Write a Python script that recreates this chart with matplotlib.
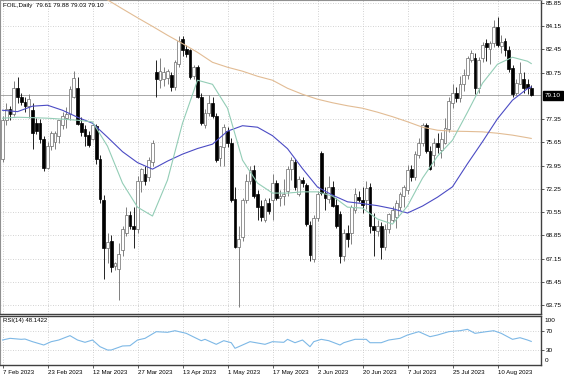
import numpy as np
import matplotlib
matplotlib.use("Agg")
import matplotlib.pyplot as plt

plt.rcParams['font.family'] = ['Liberation Sans', 'DejaVu Sans']

# daily bars, 7 Feb 2023 .. 23 Aug 2023 (bar index = position)
opens = [
    74.40, 77.30, 78.10, 77.70, 79.65, 78.95, 78.60, 78.30, 78.05, 77.10,
    77.10, 75.90, 73.75, 75.35, 75.70, 76.10, 76.90, 77.40, 77.70, 79.00,
    79.60, 77.10, 76.60, 76.20, 75.90, 76.85, 74.40, 71.45, 67.90, 68.40,
    66.60, 66.40, 67.80, 69.00, 70.30, 69.50, 69.30, 72.80, 73.30, 73.10,
    74.20, 80.80, 80.20, 80.30, 80.35, 80.60, 79.70, 81.40, 83.25, 82.50,
    82.40, 80.50, 81.15, 78.95, 76.90, 77.80, 78.50, 77.55, 74.50, 75.30,
    76.50, 75.60, 71.50, 68.00, 68.75, 71.40, 72.80, 73.60, 71.90, 71.00,
    70.00, 71.20, 71.40, 72.65, 71.55, 71.70, 72.10, 73.70, 74.20, 71.90,
    72.90, 72.50, 69.60, 67.10, 70.10, 74.90, 71.95, 71.50, 72.40, 71.10,
    70.40, 67.30, 69.00, 69.00, 70.70, 71.65, 71.45, 71.40, 72.40, 69.50,
    69.20, 69.50, 68.00, 69.30, 70.00, 70.20, 70.90, 71.70, 72.20, 73.70,
    73.10, 74.70, 75.60, 76.90, 75.00, 74.70, 75.60, 75.10, 75.60, 76.60,
    78.50, 79.30, 78.90, 79.90, 80.60, 81.70, 81.80, 79.60, 81.80, 82.90,
    82.50, 82.90, 84.10, 82.70, 83.10, 82.40, 81.10, 79.30, 79.90, 80.30,
    79.90, 79.61]
highs = [
    77.60, 78.50, 78.30, 80.15, 80.40, 79.30, 79.00, 79.20, 78.55, 77.40,
    77.35, 76.10, 75.70, 76.50, 76.50, 77.30, 77.90, 78.25, 79.80, 80.90,
    80.45, 77.50, 76.90, 76.50, 77.00, 77.00, 74.70, 71.80, 69.00, 68.90,
    66.90, 68.30, 69.50, 70.90, 70.60, 70.90, 73.20, 73.80, 73.90, 74.60,
    75.80, 81.70, 81.80, 81.20, 81.00, 80.80, 81.70, 83.40, 83.40, 82.80,
    82.50, 81.30, 81.30, 79.30, 78.10, 79.15, 79.00, 77.80, 75.40, 77.00,
    76.80, 76.00, 72.40, 69.50, 71.60, 73.30, 73.90, 74.00, 72.20, 71.40,
    71.60, 71.60, 73.30, 72.90, 72.20, 73.00, 73.90, 74.60, 74.40, 73.20,
    73.10, 72.70, 69.90, 70.30, 72.10, 75.00, 72.40, 73.20, 72.80, 71.60,
    70.60, 69.30, 69.60, 71.10, 72.30, 72.10, 72.40, 72.80, 72.70, 70.50,
    70.00, 69.80, 69.70, 70.50, 71.00, 71.40, 72.00, 72.50, 74.00, 74.00,
    75.00, 76.00, 77.10, 77.10, 75.40, 76.00, 76.30, 76.40, 77.40, 79.00,
    79.90, 79.70, 80.50, 81.00, 82.00, 82.40, 82.20, 81.90, 83.00, 83.20,
    83.10, 84.60, 84.85, 83.50, 83.30, 82.70, 81.30, 80.30, 81.50, 80.80,
    80.30, 79.88]
lows = [
    74.20, 76.90, 77.30, 77.60, 78.55, 78.40, 77.90, 77.40, 75.15, 76.25,
    75.60, 73.55, 73.70, 75.10, 75.20, 75.60, 76.60, 76.70, 77.30, 78.90,
    76.90, 76.10, 75.40, 75.30, 75.80, 74.10, 71.20, 65.65, 66.80, 66.20,
    66.30, 64.15, 67.30, 68.80, 69.30, 67.90, 69.00, 72.00, 72.50, 72.80,
    73.90, 79.00, 79.60, 79.80, 79.90, 79.40, 79.50, 81.20, 82.00, 81.90,
    80.30, 80.30, 78.90, 76.90, 76.70, 77.60, 77.40, 74.20, 73.90, 73.90,
    75.30, 71.30, 67.90, 63.60, 68.40, 71.20, 72.60, 71.60, 70.00, 69.90,
    69.80, 70.40, 70.00, 71.40, 71.00, 71.10, 71.70, 72.90, 72.20, 71.70,
    72.40, 69.50, 67.00, 66.90, 69.90, 71.80, 70.70, 71.20, 70.90, 69.40,
    66.80, 67.00, 68.00, 68.20, 70.50, 71.30, 70.50, 70.80, 69.00, 67.30,
    68.80, 67.10, 67.80, 69.00, 69.80, 69.40, 70.70, 70.90, 71.90, 72.80,
    72.90, 74.50, 75.40, 74.90, 73.60, 73.90, 74.90, 74.50, 75.50, 76.40,
    78.20, 78.60, 78.60, 79.40, 80.30, 81.50, 79.20, 79.30, 81.50, 81.60,
    81.40, 82.60, 82.60, 82.20, 82.00, 80.80, 79.00, 79.10, 79.90, 79.30,
    79.20, 79.03]
closes = [
    77.30, 78.10, 77.70, 79.65, 78.95, 78.60, 78.30, 78.85, 76.35, 76.45,
    75.90, 73.75, 75.35, 76.30, 76.35, 77.30, 77.60, 77.75, 79.55, 80.35,
    77.00, 76.40, 76.10, 75.45, 76.90, 74.40, 71.50, 67.90, 68.35, 66.50,
    66.80, 67.50, 69.30, 70.30, 69.50, 69.30, 72.85, 73.70, 72.80, 74.35,
    75.60, 80.30, 80.90, 80.80, 80.85, 79.70, 81.50, 83.10, 82.40, 82.15,
    80.45, 81.15, 79.00, 77.05, 77.80, 78.50, 77.60, 74.35, 75.35, 76.80,
    75.60, 71.45, 68.00, 68.60, 71.40, 72.80, 73.60, 71.70, 70.90, 70.20,
    71.40, 70.60, 72.65, 71.55, 71.70, 71.90, 73.70, 74.35, 72.40, 73.00,
    72.70, 69.70, 67.40, 70.10, 71.90, 71.95, 71.55, 72.40, 71.00, 69.50,
    67.30, 69.00, 68.60, 70.90, 71.90, 71.45, 71.05, 72.30, 69.50, 69.25,
    69.55, 68.00, 69.30, 70.40, 70.70, 71.20, 71.90, 72.40, 73.60, 73.10,
    74.80, 75.60, 76.90, 75.00, 73.70, 75.60, 75.30, 75.90, 76.70, 78.70,
    79.30, 78.90, 79.90, 80.60, 81.80, 82.20, 79.60, 81.70, 82.80, 82.60,
    82.90, 84.10, 82.80, 83.00, 82.40, 81.05, 79.20, 80.00, 80.70, 79.60,
    79.62, 79.10]

# moving averages every 4 bars
ma_idx = list(range(0, 141, 4)) + [141]
ma_blue = [78.00, 77.90, 78.30, 78.37, 78.00, 77.49, 77.05, 76.03, 74.97, 74.17,
           73.69, 74.28, 74.79, 75.20, 75.52, 76.47, 76.87, 76.76, 76.14, 75.19,
           73.73, 72.38, 71.79, 71.30, 71.17, 71.02, 70.80, 70.48, 70.99, 71.64,
           72.40, 74.09, 75.70, 77.38, 78.74, 79.59, 79.71]
ma_green = [77.42, 77.49, 77.46, 77.42, 77.35, 77.27, 77.15, 75.37, 72.67, 70.91,
            70.26, 72.89, 77.05, 80.20, 79.90, 78.15, 74.35, 72.67, 71.94, 71.94,
            72.03, 72.03, 71.72, 70.91, 70.84, 70.04, 69.67, 70.99, 73.03, 74.64,
            75.81, 77.86, 79.98, 81.37, 81.88, 81.59, 81.42]
tan_idx = list(range(24, 141, 4)) + [141]
ma_tan = [86.74, 86.08, 85.42, 84.77, 84.14, 83.49, 82.88, 82.24, 81.51, 81.15,
          80.86, 80.49, 80.20, 79.61, 79.17, 78.81, 78.55, 78.33, 78.15, 77.86,
          77.53, 77.16, 76.76, 76.54, 76.47, 76.45, 76.42, 76.32, 76.18, 75.99,
          75.94]

rsi_idx = [0, 2, 5, 6, 8, 11, 13, 15, 18, 20, 22, 24, 26, 28, 29, 32, 34, 36, 38,
           41, 44, 46, 49, 53, 54, 57, 59, 61, 62, 63, 66, 70, 72, 75, 76, 78, 80,
           82, 83, 85, 87, 90, 91, 94, 97, 98, 101, 103, 106, 108, 111, 114, 116,
           119, 122, 124, 126, 129, 131, 133, 136, 138, 140, 141]
rsi_val = [51, 54.4, 52.4, 53, 47.6, 40.8, 47.6, 51, 59.9, 51, 46.3, 51, 37.4,
           30.6, 30.6, 38.8, 39.4, 51, 54.4, 68, 66.7, 70, 64.6, 49.6, 52.4, 42.2,
           49.6, 45.5, 34.1, 37.4, 47.6, 42.2, 47.6, 46.3, 52.4, 45.5, 51, 37.4,
           47.6, 52.4, 49.6, 40.8, 45.5, 52.4, 52.4, 45.5, 45.5, 51, 54.4, 61.2,
           68, 57.8, 61.2, 68, 70, 72.8, 64.6, 68, 70, 64.6, 52.4, 55.7, 51, 48.1422]

price_ticks = [85.85, 84.15, 82.45, 80.75, 79.10, 77.35, 75.65, 73.95, 72.25,
               70.55, 68.85, 67.15, 65.45, 63.75]
date_labels = ['7 Feb 2023', '23 Feb 2023', '12 Mar 2023', '27 Mar 2023',
               '13 Apr 2023', '1 May 2023', '17 May 2023', '2 Jun 2023',
               '20 Jun 2023', '7 Jul 2023', '25 Jul 2023', '10 Aug 2023']
bars_per_label = 12

o = np.array(opens); h = np.array(highs); l = np.array(lows); c = np.array(closes)
x = np.arange(len(c))
up = c >= o

fig = plt.figure(figsize=(5.64, 3.76), dpi=100)
ax = fig.add_axes([0, 1 - 314 / 376, 541 / 564, 314 / 376])
axr = fig.add_axes([0, 11 / 376, 541 / 564, 49 / 376])

xlim = (-0.667, 143.6)
grid_kw = dict(color='#c4c4c4', lw=0.6, linestyle=(0, (1, 2)))
date_pos = [i * bars_per_label for i in range(len(date_labels))]

# candles
ax.vlines(x[up], l[up], h[up], color='#6a6a6a', lw=0.6, zorder=2)
ax.vlines(x[~up], l[~up], h[~up], color='black', lw=0.6, zorder=2)
body = np.maximum(np.abs(c - o), 0.04)
ax.bar(x[up], body[up], bottom=np.minimum(o, c)[up], width=0.72,
       color='white', edgecolor='#6a6a6a', lw=0.5, zorder=3)
ax.bar(x[~up], body[~up], bottom=np.minimum(o, c)[~up], width=0.72,
       color='black', edgecolor='black', lw=0.5, zorder=3)

ax.plot(tan_idx, ma_tan, color='#e2bc94', lw=0.8, zorder=4)
ax.plot(ma_idx, ma_blue, color='#4b4bc4', lw=0.8, zorder=4)
ax.plot(ma_idx, ma_green, color='#93cdb6', lw=0.8, zorder=4)

ax.axhline(closes[-1], color='#a8a8a8', lw=0.7, zorder=1)

ax.set_xlim(*xlim)
ax.set_ylim(63.09, 86.07)
ax.set_xticks(date_pos)
ax.set_yticks([p for p in price_ticks if p != closes[-1]])
ax.grid(True, **grid_kw)
ax.set_axisbelow(True)
ax.yaxis.tick_right()
ax.tick_params(axis='y', labelsize=4.6, length=2, pad=1.5, width=0.6, color='#404040')
ax.tick_params(axis='x', length=0, labelbottom=False)
for s in ('left', 'top'):
    ax.spines[s].set_color('#909090'); ax.spines[s].set_linewidth(0.8)
for s in ('right', 'bottom'):
    ax.spines[s].set_color('#404040'); ax.spines[s].set_linewidth(1.0)

ax.annotate(f'{closes[-1]:.2f}', xy=(1, closes[-1]), xycoords=('axes fraction', 'data'),
            xytext=(4, 0), textcoords='offset pixels', ha='left', va='center',
            color='white', fontsize=4.6,
            bbox=dict(boxstyle='square,pad=0.3', fc='black', ec='black'))
ax.text(0.005, 0.992, f'FOIL,Daily  {opens[-1]:.2f} {highs[-1]:.2f} {lows[-1]:.2f} {closes[-1]:.2f}',
        transform=ax.transAxes, fontsize=4.5, va='top', ha='left')

# RSI panel
axr.plot(rsi_idx, rsi_val, color='#7db8e6', lw=0.8)
axr.set_xlim(*xlim)
axr.set_ylim(0, 100)
axr.set_xticks(date_pos)
axr.set_xticklabels(date_labels, ha='left')
axr.set_yticks([30, 70])
axr.grid(True, **grid_kw)
axr.yaxis.tick_right()
axr.tick_params(axis='y', labelsize=4.6, length=2, pad=1.5, width=0.6, color='#404040')
axr.tick_params(axis='x', labelsize=4.4, length=2, pad=1.5, width=0.6, color='#404040')
for lab, val, dy in (('100', 100, -4), ('0', 0, 4)):
    axr.annotate(lab, xy=(1, val), xycoords=('axes fraction', 'data'), xytext=(3.5, dy),
                 textcoords='offset pixels', ha='left', va='center', fontsize=4.6)
for s in ('left',):
    axr.spines[s].set_color('#909090'); axr.spines[s].set_linewidth(0.8)
for s in ('right', 'bottom', 'top'):
    axr.spines[s].set_color('#404040'); axr.spines[s].set_linewidth(1.0)
axr.text(0.005, 0.95, f'RSI(14) {rsi_val[-1]:.4f}', transform=axr.transAxes,
         fontsize=4.3, va='top', ha='left')

fig.savefig('out.png', dpi=100)
